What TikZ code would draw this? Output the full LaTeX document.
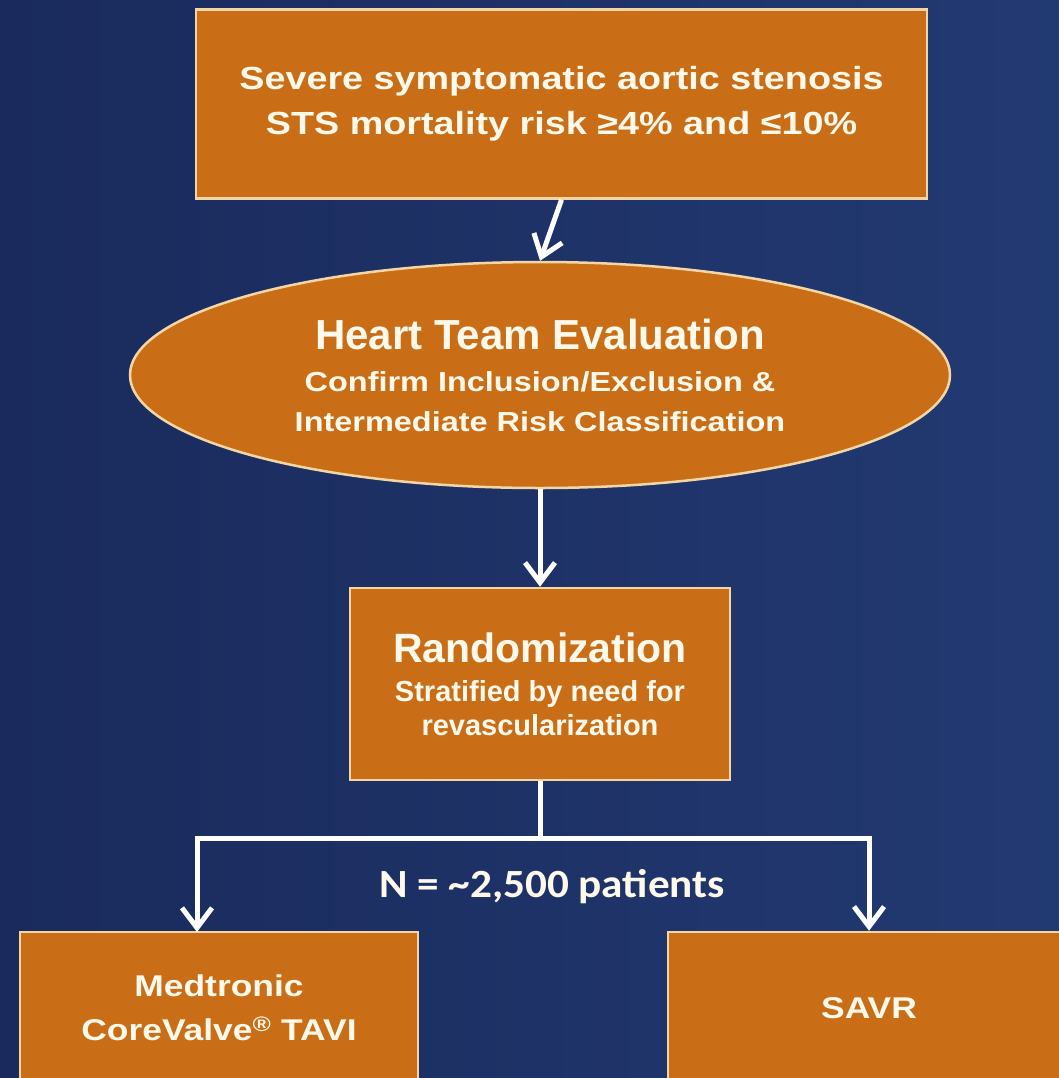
\documentclass[tikz,border=0pt]{standalone}
\usepackage{fontspec}
\setmainfont{Liberation Sans}
\newfontfamily\widefont[FakeStretch=1.18]{Liberation Sans}
\newfontfamily\calfont[FakeStretch=1.08]{Carlito}
\usetikzlibrary{shapes.geometric,arrows.meta}

\definecolor{navyleft}{HTML}{1A2A5C}
\definecolor{navyright}{HTML}{223A72}
\definecolor{boxorange}{HTML}{C96E17}
\definecolor{cream}{HTML}{F3D6A6}
\definecolor{textwhite}{HTML}{FFF9EC}

% font sizes used in the boxes
\newcommand\titlefont{\normalfont\bfseries\fontsize{41bp}{41bp}\selectfont}
\newcommand\subfont{\widefont\bfseries\fontsize{27.5bp}{40bp}\selectfont}
\newcommand\notefont{\bfseries\fontsize{29bp}{34bp}\selectfont}
\newcommand\armfont{\widefont\bfseries\fontsize{30bp}{44bp}\selectfont}

\tikzset{
  box/.style={draw=cream, line width=2.5bp, fill=boxorange, text=textwhite,
    align=center, inner sep=0pt},
  arr/.style={draw=white, line width=5bp, -{Straight Barb[length=20bp,width=30bp]}},
}

\begin{document}
\begin{tikzpicture}[x=1bp,y={(0,-1bp)}]

%background
\fill[left color=navyleft,right color=navyright] (0,0) rectangle (1059,1078);
\useasboundingbox (0,0) rectangle (1059,1078);

%the boxes
\node[box, minimum width=731bp, minimum height=189bp,
  font={\widefont\bfseries\fontsize{32bp}{45bp}\selectfont}] (screen) at (561.5,104)
  {Severe symptomatic aortic stenosis\\
   STS mortality risk ≥4\% and ≤10\%};
\node[box, ellipse, minimum width=820bp, minimum height=226bp, font=\subfont] (heart) at (540,375)
  {{\normalfont\bfseries\fontsize{42bp}{42bp}\selectfont Heart Team Evaluation}\\[2bp]
   Confirm Inclusion/Exclusion \&\\
   Intermediate Risk Classification};
\node[box, minimum width=380bp, minimum height=192bp, font=\notefont] (random) at (540,684)
  {{\titlefont Randomization}\\[5bp]
   Stratified by need for\\
   revascularization};
\node[box, minimum width=398bp, minimum height=152bp, font=\armfont] (tavi) at (219,1008)
  {Medtronic\\
   CoreValve\textsuperscript{®} TAVI};
\node[box, minimum width=402bp, minimum height=152bp, font=\armfont] (savr) at (869,1008)
  {SAVR};

%arrows between the boxes
\coordinate (fork) at (540,838);
\coordinate (taviin) at (197,932);
\draw[arr] (screen.south) -- (heart.north);
\draw[arr] (heart.south) -- (random.north);
\draw[draw=white, line width=5bp] (random.south) -- (fork);
\draw[arr] (fork) -| (taviin);
\draw[arr] (fork) -| (savr.north);

\node[text=textwhite, font={\calfont\bfseries\fontsize{40bp}{40bp}\selectfont}] (count) at (552,887)
  {N = \char`\~2,500 patients};

\end{tikzpicture}
\end{document}
